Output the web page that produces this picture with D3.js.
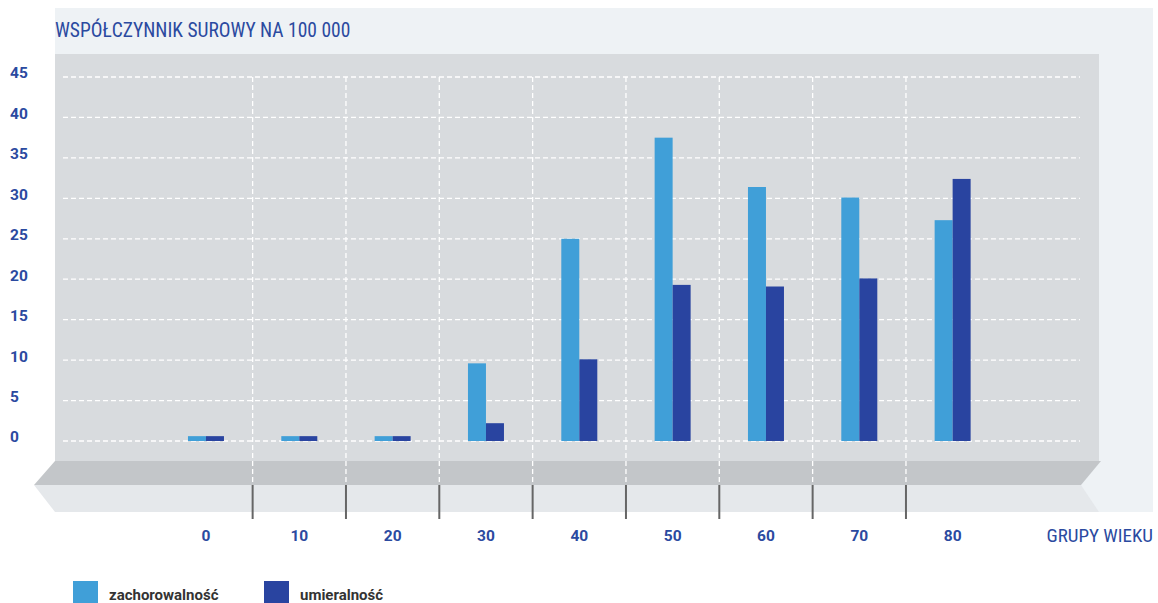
<!DOCTYPE html>
<html>
<head>
<meta charset="utf-8">
<script src="https://cdn.jsdelivr.net/npm/d3@7"></script>
<style>
  body { margin: 0; background: #fff; }
  svg { display: block; }
</style>
</head>
<body>
<div class="container"></div>
<script>
// data
const groups = ["0", "10", "20", "30", "40", "50", "60", "70", "80"];
const zachorowalnosc = [0.6, 0.6, 0.6, 9.6, 25.0, 37.5, 31.4, 30.1, 27.3];
const umieralnosc = [0.6, 0.6, 0.6, 2.2, 10.1, 19.3, 19.1, 20.1, 32.4];
const yTicks = [0, 5, 10, 15, 20, 25, 30, 35, 40, 45];
const seriesNames = ["zachorowalność", "umieralność"];
const colors = ["#409fd8", "#2944a0"];

const width = 1158, height = 603;
const blue = "#2b4aa0";
const narrow = "'Liberation Sans Narrow', 'Roboto Condensed', Roboto, sans-serif";

const svg = d3.select(".container").append("svg")
  .attr("width", width).attr("height", height);

const x = d3.scaleBand().domain(groups).range([159.3, 999.3]);
const y = d3.scaleLinear().domain([0, 45]).range([441, 77]);
const xs = d3.scaleBand().domain(seriesNames).range([-18, 18]);

// background panels
svg.append("rect").attr("x", 55).attr("y", 8).attr("width", 1098).attr("height", 504).attr("fill", "#eef2f5");
svg.append("rect").attr("x", 55).attr("y", 54).attr("width", 1044).attr("height", 407).attr("fill", "#d8dbde");
svg.append("path").attr("d", "M34,485 L55,512 L1099,512 L1081,485 Z").attr("fill", "#e5e8eb");
svg.append("path").attr("d", "M55,461 L1101,461 L1081,485 L34,485 Z").attr("fill", "#c3c6c9");

// horizontal gridlines
svg.append("g").selectAll("line").data(yTicks).join("line")
  .attr("x1", 63).attr("x2", 1080)
  .attr("y1", d => y(d)).attr("y2", d => y(d))
  .attr("stroke", "#fff").attr("stroke-width", 1.3)
  .attr("stroke-dasharray", "5,3");

// vertical separators between groups
const seps = groups.slice(1).map(g => x(g));
svg.append("g").selectAll("line").data(seps).join("line")
  .attr("x1", d => d).attr("x2", d => d)
  .attr("y1", y(45)).attr("y2", 485)
  .attr("stroke", "#fff").attr("stroke-width", 1.3)
  .attr("stroke-dasharray", "5,3");
svg.append("g").selectAll("line").data(seps).join("line")
  .attr("x1", d => d).attr("x2", d => d)
  .attr("y1", 485).attr("y2", 519)
  .attr("stroke", "#666").attr("stroke-width", 2);

// bars
const rows = groups.map((g, i) => ({ g, vals: [zachorowalnosc[i], umieralnosc[i]] }));
svg.append("g").selectAll("g").data(rows).join("g")
  .attr("transform", d => `translate(${x(d.g) + x.bandwidth() / 2},0)`)
  .selectAll("rect")
  .data(d => d.vals.map((v, k) => ({ v, k })))
  .join("rect")
  .attr("x", d => xs(seriesNames[d.k]))
  .attr("width", xs.bandwidth())
  .attr("y", d => y(d.v))
  .attr("height", d => y(0) - y(d.v))
  .attr("fill", d => colors[d.k]);

// y tick labels
svg.append("g").attr("font-family", "Roboto, sans-serif").attr("font-weight", "bold")
  .attr("font-size", 15.5).attr("fill", blue)
  .selectAll("text").data(yTicks).join("text")
  .attr("x", 10).attr("y", d => y(d) - 4).attr("dy", "0.35em")
  .text(d => d);

// x labels
svg.append("g").attr("font-family", "Roboto, sans-serif").attr("font-weight", "bold")
  .attr("font-size", 15.5).attr("fill", blue).attr("text-anchor", "middle")
  .selectAll("text").data(groups).join("text")
  .attr("x", d => x(d) + x.bandwidth() / 2).attr("y", 541)
  .text(d => d);

// titles
svg.append("text").attr("x", 55).attr("y", 37)
  .attr("font-family", narrow)
  .attr("font-size", 19.5).attr("fill", blue)
  .text("WSPÓŁCZYNNIK SUROWY NA 100 000");
svg.append("text").attr("x", 1153).attr("y", 542).attr("text-anchor", "end")
  .attr("font-family", narrow)
  .attr("font-size", 19).attr("fill", blue)
  .text("GRUPY WIEKU");

// legend
const leg = svg.append("g").selectAll("g").data(seriesNames).join("g")
  .attr("transform", (d, i) => `translate(${[73, 264][i]},581)`);
leg.append("rect").attr("width", 25).attr("height", 22).attr("fill", (d, i) => colors[i]);
leg.append("text").attr("x", 36).attr("y", 19)
  .attr("font-family", "Roboto, sans-serif").attr("font-weight", "bold")
  .attr("font-size", 15).attr("fill", "#333")
  .text(d => d);
</script>
</body>
</html>
